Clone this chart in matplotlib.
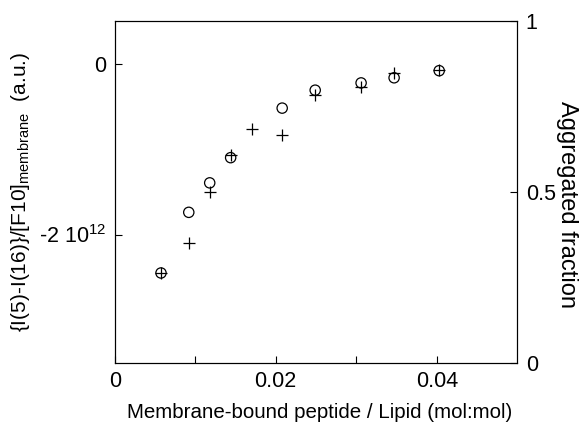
import numpy as np
import matplotlib
matplotlib.use('Agg')
import matplotlib.pyplot as plt
from matplotlib.ticker import FuncFormatter

plt.rcParams['font.family'] = ['Liberation Sans', 'DejaVu Sans']
plt.rcParams['mathtext.fontset'] = 'custom'
plt.rcParams['mathtext.rm'] = 'Liberation Sans'
plt.rcParams['mathtext.it'] = 'Liberation Sans'

# peptide / lipid ratio
x_circ = [0.00575, 0.0092, 0.0118, 0.0144, 0.0208, 0.0249, 0.0306, 0.0347, 0.0403]
# {I(5)-I(16)}/[F10]membrane, units of 1e12
y_circ = [-2.45, -1.74, -1.395, -1.10, -0.52, -0.31, -0.225, -0.165, -0.082]

x_plus = [0.00575, 0.0092, 0.0118, 0.0144, 0.0170, 0.0208, 0.0249, 0.0306, 0.0347, 0.0403]
# aggregated fraction
y_plus = [0.262, 0.349, 0.499, 0.607, 0.685, 0.665, 0.783, 0.808, 0.849, 0.856]

fig = plt.figure(figsize=(5.84, 4.23), dpi=100)
ax = fig.add_axes([0.1964, 0.1426, 0.6894, 0.8078])

ax.scatter(x_circ, np.array(y_circ) * 1e12, marker='o', s=55, facecolors='none',
           edgecolors='black', linewidths=0.9, zorder=3)
ax.set_xlim(0, 0.05)
ax.set_ylim(-3.5e12, 0.5e12)
ax.set_xticks([0, 0.01, 0.02, 0.03, 0.04])
ax.set_xticklabels(['0', '', '0.02', '', '0.04'])
ax.set_yticks([-2e12, 0])
ax.yaxis.set_major_formatter(FuncFormatter(
    lambda v, p: '0' if v == 0 else r'-2 10$^{12}$'))
ax.tick_params(direction='in', length=5, labelsize=15.5, width=0.8)
ax.tick_params(axis='x', pad=6)
ax.tick_params(axis='y', pad=6)
ax.set_xlabel('Membrane-bound peptide / Lipid (mol:mol)', fontsize=14.8, labelpad=8, x=0.51)
ax.set_ylabel(r'{I(5)-I(16)}/[F10]$_{\mathrm{membrane}}$  (a.u.)', fontsize=15, labelpad=5)

ax2 = ax.twinx()
ax2.scatter(x_plus, y_plus, marker='+', s=75, color='black', linewidths=0.9, zorder=3)
ax2.set_ylim(0, 1)
ax2.set_yticks([0, 0.5, 1])
ax2.set_yticklabels(['0', '0.5', '1'])
ax2.tick_params(direction='in', length=5, labelsize=15.5, width=0.8, pad=6)
fig.text(567 / 584, 1 - 204 / 423, 'Aggregated fraction', fontsize=17, rotation=270,
         ha='center', va='center')

for a in (ax, ax2):
    for s in a.spines.values():
        s.set_linewidth(0.8)

fig.savefig('out.png', dpi=100)
